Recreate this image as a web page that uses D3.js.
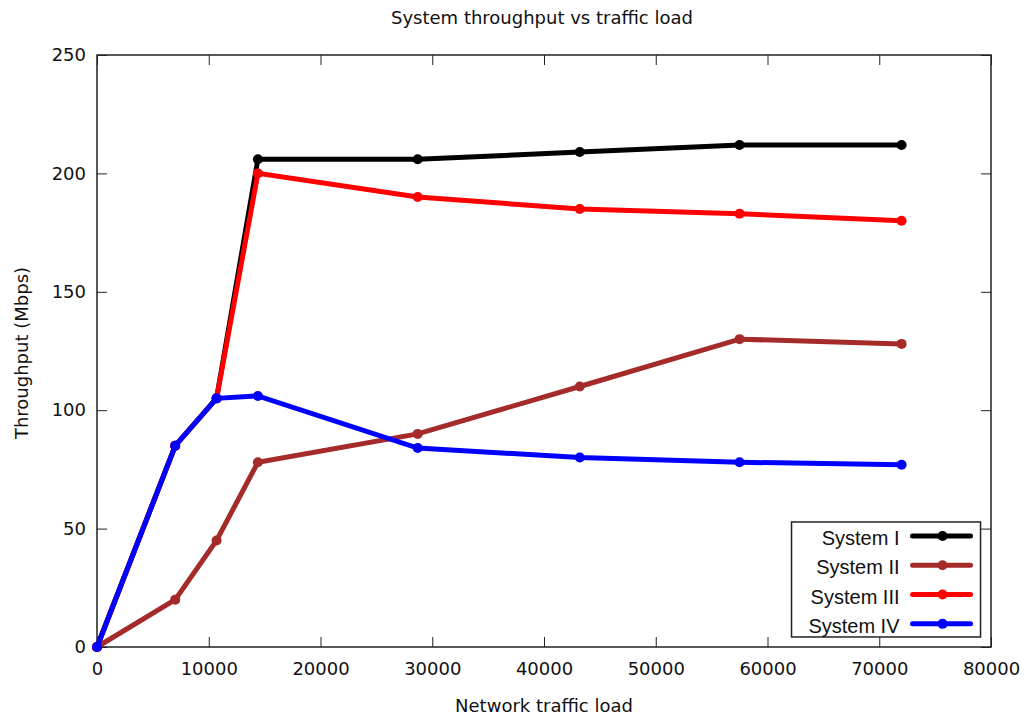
<!DOCTYPE html>
<html>
<head>
<meta charset="utf-8">
<script src="https://cdnjs.cloudflare.com/ajax/libs/d3/7.8.5/d3.min.js"></script>
<style>
  body { margin: 0; background: #fff; }
  svg text { font-family: "DejaVu Sans", sans-serif; fill: #111; }
  .legend text { font-family: "Liberation Sans", Arial, sans-serif; }
</style>
</head>
<body>
<div id="chart"></div>
<script>
// data
var loads = [0, 7000, 10700, 14400, 28700, 43200, 57500, 72000];
var system1 = [0, 85, 105, 206, 206, 209, 212, 212];
var system2 = [0, 20, 45, 78, 90, 110, 130, 128];
var system3 = [0, 85, 105, 200, 190, 185, 183, 180];
var system4 = [0, 85, 105, 106, 84, 80, 78, 77];
var seriesNames = ["System I", "System II", "System III", "System IV"];
var seriesColors = ["#000000", "#a52a2a", "#ff0000", "#0000ff"];
var xTicks = [0, 10000, 20000, 30000, 40000, 50000, 60000, 70000, 80000];
var yTicks = [0, 50, 100, 150, 200, 250];

var W = 1030, H = 719;
var margin = {top: 55, right: 39, bottom: 72, left: 97},
    width = W - margin.left - margin.right,
    height = H - margin.top - margin.bottom;

var x = d3.scaleLinear().domain([0, 80000]).range([0, width]);
var y = d3.scaleLinear().domain([0, 250]).range([height, 0]);

var svg = d3.select("#chart").append("svg")
    .attr("width", W).attr("height", H);

svg.append("text")
    .attr("x", margin.left + width / 2 - 2).attr("y", 24)
    .attr("text-anchor", "middle")
    .style("font-size", "18px")
    .text("System throughput vs traffic load");

var g = svg.append("g")
    .attr("transform", "translate(" + margin.left + "," + margin.top + ")");

var tickLen = 10;

// bottom and left axes (ticks point inward)
g.append("g")
    .attr("transform", "translate(0," + height + ")")
    .call(d3.axisBottom(x).tickValues(xTicks).tickSize(-tickLen).tickPadding(15).tickFormat(d3.format("d")))
    .call(function(a) {
        a.select(".domain").remove();
        a.selectAll("line").attr("stroke", "#222");
        a.selectAll("text").style("font-size", "18px");
    });

g.append("g")
    .call(d3.axisLeft(y).tickValues(yTicks).tickSize(-tickLen).tickPadding(11))
    .call(function(a) {
        a.select(".domain").remove();
        a.selectAll("line").attr("stroke", "#222");
        a.selectAll("text").style("font-size", "18px");
    });

// mirrored ticks on top and right
g.append("g")
    .call(d3.axisTop(x).tickValues(xTicks).tickSize(-tickLen).tickFormat(""))
    .call(function(a) { a.select(".domain").remove(); a.selectAll("line").attr("stroke", "#222"); });
g.append("g")
    .attr("transform", "translate(" + width + ",0)")
    .call(d3.axisRight(y).tickValues(yTicks).tickSize(-tickLen).tickFormat(""))
    .call(function(a) { a.select(".domain").remove(); a.selectAll("line").attr("stroke", "#222"); });

// frame
g.append("rect")
    .attr("width", width).attr("height", height)
    .attr("fill", "none").attr("stroke", "#222").attr("stroke-width", 1.5);

// axis labels
svg.append("text")
    .attr("x", margin.left + width / 2).attr("y", 712)
    .attr("text-anchor", "middle")
    .style("font-size", "18px")
    .text("Network traffic load");

svg.append("text")
    .attr("transform", "translate(28," + (margin.top + height / 2 + 2) + ") rotate(-90)")
    .attr("text-anchor", "middle")
    .style("font-size", "18px")
    .text("Throughput (Mbps)");

var allSeries = [system1, system2, system3, system4];

var line = d3.line()
    .x(function(d, i) { return x(loads[i]); })
    .y(function(d) { return y(d); });

// legend box
var legend = g.append("g").attr("class", "legend");
var lgX = x(62150), lgY = y(52.8);
legend.append("rect")
    .attr("x", lgX).attr("y", lgY)
    .attr("width", 189).attr("height", 115)
    .attr("fill", "#fff").attr("stroke", "#222").attr("stroke-width", 1.5);

allSeries.forEach(function(vals, k) {
    g.append("path")
        .datum(vals)
        .attr("fill", "none")
        .attr("stroke", seriesColors[k])
        .attr("stroke-width", 5)
        .attr("d", line);

    g.selectAll(".pt" + k)
        .data(vals)
      .enter().append("circle")
        .attr("cx", function(d, i) { return x(loads[i]); })
        .attr("cy", function(d) { return y(d); })
        .attr("r", 5)
        .attr("fill", seriesColors[k]);

    var ly = lgY + 14 + k * 29.3;
    legend.append("text")
        .attr("x", lgX + 108).attr("y", ly + 9)
        .attr("text-anchor", "end")
        .style("font-size", "20px")
        .text(seriesNames[k]);
    legend.append("line")
        .attr("x1", lgX + 121).attr("x2", lgX + 179)
        .attr("y1", ly).attr("y2", ly)
        .attr("stroke", seriesColors[k]).attr("stroke-width", 5)
        .attr("stroke-linecap", "round");
    legend.append("circle")
        .attr("cx", lgX + 151).attr("cy", ly).attr("r", 5)
        .attr("fill", seriesColors[k]);
});
</script>
</body>
</html>
